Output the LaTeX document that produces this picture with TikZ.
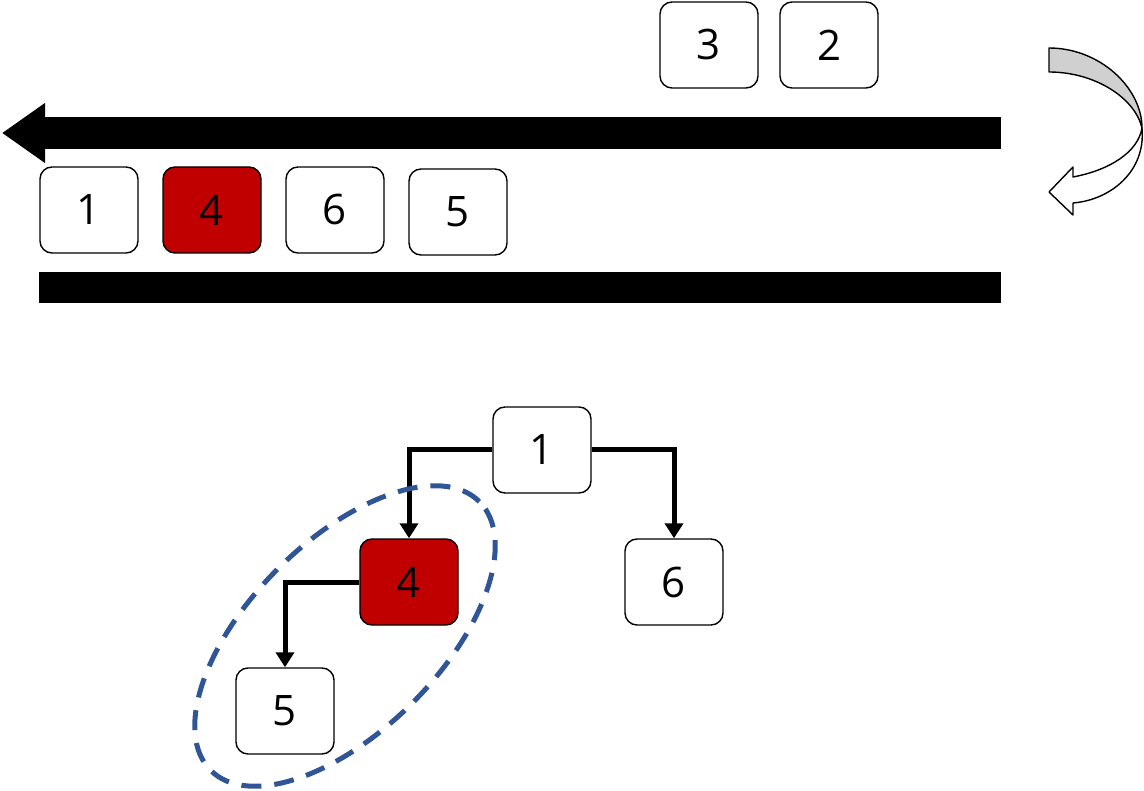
\documentclass[tikz,border=0pt]{standalone}
\usepackage{fontspec}
\setmainfont{Open Sans}
\usetikzlibrary{arrows.meta,shapes.geometric}
\definecolor{boxred}{HTML}{C00000}
\definecolor{dashblue}{HTML}{2F5597}
\definecolor{curvegray}{HTML}{D0D0D0}
\begin{document}
\begin{tikzpicture}[x=1pt,y=-1pt,
  box/.style={draw=black,line width=1.4pt,rounded corners=12pt,minimum width=98pt,minimum height=86pt,inner sep=0pt,fill=white,font=\fontsize{42}{50}\selectfont},
  redbox/.style={box,fill=boxred},
  link/.style={line width=5pt,-{Triangle[length=15pt,width=18pt]}}]
\useasboundingbox (0,0) rectangle (1144,791);
% top row
\node[box] (t3) at (709,45) {3};
\node[box] (t2) at (829,45) {2};
% big arrow
\coordinate (as) at (1001,133);
\coordinate (ae) at (2,133);
\draw[line width=32pt,-{Triangle[length=43pt,width=57pt]}] (as) -- (ae);
% queue row
\node[box] (q1) at (89,210) {1};
\node[redbox] (q4) at (212,210) {4};
\node[box] (q6) at (335,210) {6};
\node[box] (q5) at (458,212) {5};
% bottom bar
\fill (39,272) rectangle (1001,303);
% curved arrow
\filldraw[fill=curvegray,line width=1.4pt,line join=round] (1049,48) -- (1049,72) .. controls (1095,72) and (1135,98) .. (1142,128) .. controls (1142,88) and (1100,48) .. (1049,48) -- cycle;
\filldraw[fill=white,line width=1.4pt,line join=round] (1142,128) .. controls (1146,172) and (1110,200) .. (1073,203) -- (1073,215) -- (1049,192) -- (1073,167) -- (1073,177) .. controls (1110,170) and (1138,152) .. (1142,128) -- cycle;
% tree
\node[box] (n1) at (542,450) {1};
\node[redbox] (n4) at (409,582) {4};
\node[box] (n6) at (674,582) {6};
\node[box] (n5) at (285,711) {5};
\draw[link] (n1.west) -| (n4.north);
\draw[link] (n1.east) -| (n6.north);
\draw[link] (n4.west) -| (n5.north);
% dashed ellipse
\node[ellipse,draw=dashblue,line width=5pt,dash pattern=on 20pt off 13pt,minimum width=380pt,minimum height=190pt,inner sep=0pt,rotate=45] (grp) at (345,636) {};
\end{tikzpicture}
\end{document}
